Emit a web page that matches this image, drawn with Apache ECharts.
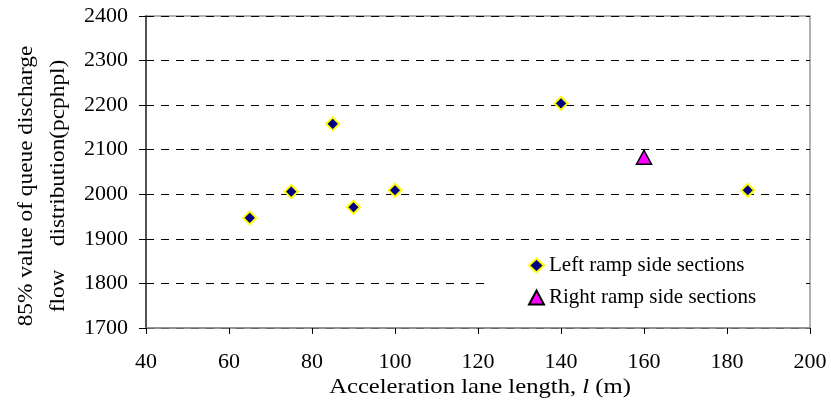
<!DOCTYPE html>
<html>
<head>
<meta charset="utf-8">
<script src="https://cdn.jsdelivr.net/npm/echarts@6/dist/echarts.min.js"></script>
<style>html,body{margin:0;padding:0;background:#fff}#c{width:831px;height:403px}</style>
</head>
<body>
<div id="c"></div>
<script>
// Data
const leftX = [65, 75, 85, 90, 100, 140, 185];
const leftY = [1947, 2006, 2158, 1971, 2009, 2204, 2009];
const rightX = [160];
const rightY = [2083];
const xTicks = [40, 60, 80, 100, 120, 140, 160, 180, 200];
const yTicks = [1700, 1800, 1900, 2000, 2100, 2200, 2300, 2400];
const leftName = 'Left ramp side sections';
const rightName = 'Right ramp side sections';

const FONT = 'Liberation Serif';
const chart = echarts.init(document.getElementById('c'), null, {renderer: 'canvas'});
chart.setOption({
  animation: false,
  backgroundColor: '#fff',
  grid: {left: 146, right: 21, top: 16, bottom: 75, show: true, borderColor: '#999', borderWidth: 1.5, backgroundColor: 'transparent'},
  xAxis: {
    type: 'value', min: xTicks[0], max: xTicks[xTicks.length - 1], interval: 20,
    axisLine: {show: true, lineStyle: {color: '#888', width: 1.5}},
    axisTick: {show: true, inside: false, length: 6, lineStyle: {color: '#000'}},
    axisLabel: {fontFamily: FONT, fontSize: 22, color: '#000', margin: 23, formatter: v => String(v)},
    splitLine: {show: false}
  },
  yAxis: {
    type: 'value', min: yTicks[0], max: yTicks[yTicks.length - 1], interval: 100,
    axisLine: {show: true, lineStyle: {color: '#333', width: 1.5}},
    axisTick: {show: true, inside: false, length: 7, lineStyle: {color: '#000'}},
    axisLabel: {fontFamily: FONT, fontSize: 22, color: '#000', margin: 18, formatter: v => String(v)},
    splitLine: {show: true, lineStyle: {color: '#000', type: [8, 7], width: 1}}
  },
  legend: {
    orient: 'vertical', left: 486, top: 249,
    backgroundColor: '#fff', padding: [6, 50, 6, 42],
    itemWidth: 15, itemHeight: 14, itemGap: 11,
    textStyle: {fontFamily: FONT, fontSize: 21, color: '#000'},
    data: [leftName, rightName]
  },
  graphic: [{
    type: 'text', x: 42, y: 186, rotation: Math.PI / 2, scaleX: 1.06,
    style: {
      text: '85% value of queue discharge\nflow    distribution(pcphpl)',
      font: '22px "Liberation Serif"', fill: '#000', align: 'center', verticalAlign: 'middle', lineHeight: 32
    }
  }, {
    type: 'text', x: 480, y: 387, scaleX: 1.12,
    style: {
      text: 'Acceleration lane length, {i|l} (m)',
      font: '22px "Liberation Serif"', fill: '#000', align: 'center', verticalAlign: 'middle',
      rich: {i: {font: 'italic 22px "Liberation Serif"', fill: '#000'}}
    }
  }],
  series: [{
    name: leftName, type: 'scatter', symbol: 'diamond', symbolSize: 13,
    itemStyle: {color: '#000080', borderColor: '#ffff00', borderWidth: 2, opacity: 1},
    data: leftX.map((x, i) => [x, leftY[i]]), z: 5
  }, {
    name: rightName, type: 'scatter', symbol: 'triangle', symbolSize: [15, 14],
    itemStyle: {color: '#ff00ff', borderColor: '#000', borderWidth: 1.5, opacity: 1},
    data: rightX.map((x, i) => [x, rightY[i]]), z: 5
  }]
});
</script>
</body>
</html>
